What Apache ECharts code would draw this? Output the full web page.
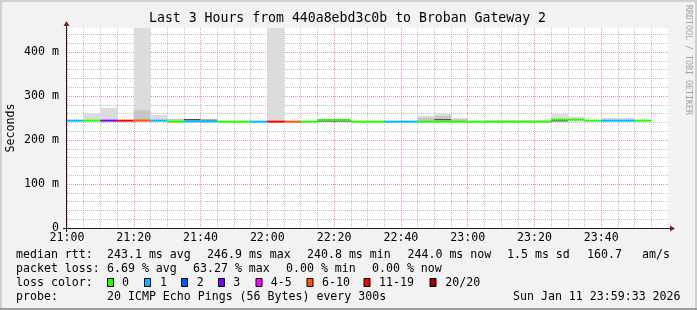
<!DOCTYPE html>
<html><head><meta charset="utf-8">
<script src="https://cdn.jsdelivr.net/npm/echarts@6/dist/echarts.min.js"></script>
<style>html,body{margin:0;padding:0;background:#f2f2f2}#c{width:697px;height:310px}</style>
</head><body><div id="c"></div>
<script>
// ---- data ----
const binTimes = ['21:00','21:05','21:10','21:15','21:20','21:25','21:30','21:35','21:40','21:45','21:50','21:55',
  '22:00','22:05','22:10','22:15','22:20','22:25','22:30','22:35','22:40','22:45','22:50','22:55',
  '23:00','23:05','23:10','23:15','23:20','23:25','23:30','23:35','23:40','23:45','23:50'];
const medianRtt = [243.9,243.9,243.9,243.9,244.2,243.9,241.6,242.4,242.4,241.7,241.7,241.7,
  241.7,241.7,241.7,245.5,245.5,241.7,241.7,241.7,241.7,241.7,241.7,241.7,
  241.7,241.6,241.6,241.7,241.7,246.2,246.4,243.9,243.9,243.9,244.0];
const lostPings = [1,0,3,12,7,1,0,1,1,0,0,1, 13,6,0,0,0,0,0,1,1,0,0,0, 0,0,0,0,0,0,0,0,1,1,0];
const smokeLow  = [null,243,243,null,243,243,241,241,241,null,null,null, 240,null,null,null,null,null,null,null,null,241,241,241, null,241,241,241,241,241,241,null,243,243,null];
const smokeHigh = [null,260,273,null,600,257,248,248,246.5,null,null,null, 600,null,null,null,null,null,null,null,null,254.5,259,248.5, null,245.8,245.8,245,245.8,259,253,null,250.5,250.5,null];
const smokeMid  = [null,null,null,null,268,null,248,null,null,null,null,null, null,null,null,null,null,null,null,null,null,250.5,255,248.5, null,null,null,null,null,null,null,null,null,null,null];
const denseLow  = [null,null,null,null,null,null,null,244.7,244.5,null,null,null, null,null,null,241.7,241.7,null,null,null,null,null,245,null, null,null,null,null,null,242.2,null,null,null,null,null];
const denseHigh = [null,null,null,null,null,null,null,247.7,246.3,null,null,null, null,null,null,245.5,245.5,null,null,null,null,null,247.5,null, null,null,null,null,null,246.2,null,null,null,null,null];
const xTickLabels = ['21:00','21:20','21:40','22:00','22:20','22:40','23:00','23:20','23:40'];
const yTickLabels = ['0','100 m','200 m','300 m','400 m'];
const lossLabels = ['0','1','2','3','4-5','6-10','11-19','20/20'];
const lossColors = ['#26ff00','#00b8ff','#0059ff','#7e00ff','#ff00ff','#ff5500','#ff0000','#a00000'];
const rttStats = ['243.1 ms avg','246.9 ms max','240.8 ms min','244.0 ms now','1.5 ms sd','160.7','am/s'];
const lossStats = ['6.69 % avg','63.27 % max','0.00 % min','0.00 % now'];
const probeText = '20 ICMP Echo Pings (56 Bytes) every 300s';
const stampText = 'Sun Jan 11 23:59:33 2026';
const titleText = 'Last 3 Hours from 440a8ebd3c0b to Broban Gateway 2';
const stepMinutes = 5;

// ---- helpers ----
const MONO = 'DejaVu Sans Mono';
const Y_MAX = 454.5;
const MAJOR = 'rgba(222,79,79,0.6)';
const MINOR = 'rgba(143,143,143,0.55)';
function toMin(t){ const p = t.split(':'); return (+p[0]*60 + +p[1]) - 21*60; }
function lossIndex(n){ if(n<=3) return n; if(n<=5) return 4; if(n<=10) return 5; if(n<=19) return 6; return 7; }

const smokeData = binTimes.map((t,i)=>[toMin(t), toMin(t)+stepMinutes, smokeLow[i], smokeHigh[i], smokeMid[i], denseLow[i], denseHigh[i]]);
const medianData = binTimes.map((t,i)=>[toMin(t), toMin(t)+stepMinutes, medianRtt[i], lostPings[i]]);

const xGridColors = []; for(let v=0; v<=180; v+=5) xGridColors.push(v%20===0?MAJOR:MINOR);
const yGridColors = []; for(let v=0; v<=440; v+=20) yGridColors.push(v%100===0?MAJOR:MINOR); yGridColors.push('rgba(0,0,0,0)');

function smokeItem(params, api){
  const s = api.value(0), e = api.value(1), cs = params.coordSys;
  const children = [];
  function band(lo, hi, color){
    if (isNaN(lo) || isNaN(hi)) return;
    const p1 = api.coord([s, lo]), p2 = api.coord([e, hi]);
    const top = Math.max(p2[1], cs.y);
    children.push({type:'rect', shape:{x:p1[0], y:top, width:p2[0]-p1[0], height:p1[1]-top}, style:{fill:color}});
  }
  band(api.value(2), api.value(3), '#dcdcdc');
  band(api.value(2), api.value(4), '#c6c6c6');
  band(api.value(5), api.value(6), '#4a4a4a');
  return {type:'group', children};
}
function medianItem(params, api){
  const s = api.value(0), e = api.value(1);
  const p1 = api.coord([s, api.value(2)]), p2 = api.coord([e, api.value(2)]);
  return {type:'rect', shape:{x:p1[0], y:p1[1]-1, width:p2[0]-p1[0], height:2},
    style:{fill: lossColors[lossIndex(api.value(3))]}};
}

const chart = echarts.init(document.getElementById('c'), null, {renderer:'canvas'});
chart.setOption({
  backgroundColor:'#f2f2f2',
  animation:false,
  grid:{left:67, right:29, top:28, bottom:82, show:true, backgroundColor:'#ffffff', borderWidth:0},
  xAxis:{type:'value', min:0, max:180, interval:5,
    axisLine:{show:false}, axisTick:{show:false},
    axisLabel:{margin:4, fontFamily:MONO, fontSize:11.6, color:'#000', showMaxLabel:false,
      formatter:v=> (v%20===0 && v<180) ? xTickLabels[v/20] : ''},
    splitLine:{show:true, showMaxLine:false, lineStyle:{color:xGridColors, type:[1,1], width:1}}},
  yAxis:{type:'value', min:0, max:Y_MAX, interval:20,
    axisLine:{show:false}, axisTick:{show:false},
    axisLabel:{margin:8, fontFamily:MONO, fontSize:11.6, color:'#000', showMaxLabel:false,
      formatter:v=> (v%100===0) ? yTickLabels[v/100] : ''},
    splitLine:{show:true, showMaxLine:false, lineStyle:{color:yGridColors, type:[1,1], width:1}}},
  series:[
    {type:'custom', name:'smoke', renderItem:smokeItem, data:smokeData, encode:{x:[0,1], y:[2,3]}, silent:true, z:2},
    {type:'custom', name:'median', renderItem:medianItem, data:medianData, encode:{x:[0,1], y:2}, silent:true, z:3}
  ]
});

// ---- chrome and legend (placed from the library's own pixel mapping) ----
const o = chart.convertToPixel({gridIndex:0}, [0,0]);
const e = chart.convertToPixel({gridIndex:0}, [180, Y_MAX]);
const AXIS = '#1f1f1f', ARROW = '#801f1f';
const g = [];
g.push({type:'rect', shape:{x:0,y:0,width:697,height:2}, style:{fill:'#cfcfcf'}, silent:true});
g.push({type:'rect', shape:{x:0,y:0,width:2,height:310}, style:{fill:'#cfcfcf'}, silent:true});
g.push({type:'rect', shape:{x:695,y:0,width:2,height:310}, style:{fill:'#cfcfcf'}, silent:true});
g.push({type:'rect', shape:{x:0,y:308,width:697,height:2}, style:{fill:'#9e9e9e'}, silent:true});
g.push({type:'line', shape:{x1:o[0]-4, y1:o[1]+0.5, x2:e[0]+4, y2:o[1]+0.5}, style:{stroke:AXIS, lineWidth:1}, z:10});
g.push({type:'line', shape:{x1:o[0]-0.5, y1:o[1]+4, x2:o[0]-0.5, y2:e[1]-4}, style:{stroke:AXIS, lineWidth:1}, z:10});
g.push({type:'polygon', shape:{points:[[e[0]+2,o[1]-2.5],[e[0]+2,o[1]+3.5],[e[0]+7,o[1]+0.5]]}, style:{fill:ARROW}, z:10});
g.push({type:'polygon', shape:{points:[[o[0]-3.5,e[1]-2],[o[0]+2.5,e[1]-2],[o[0]-0.5,e[1]-7]]}, style:{fill:ARROW}, z:10});
function txt(s, x, y, extra){ return Object.assign({type:'text', x, y, style:{text:s, fontFamily:MONO, fontSize:11.6, fill:'#000', align:'left', verticalAlign:'middle'}, z:10}, extra||{}); }
g.push(txt(titleText, 347.5, 19, {style:{text:titleText, fontFamily:MONO, fontSize:13.2, fill:'#000', align:'center', verticalAlign:'middle'}}));
g.push(txt('Seconds', 11, 128, {rotation:Math.PI/2, style:{text:'Seconds', fontFamily:MONO, fontSize:11.6, fill:'#000', align:'center', verticalAlign:'middle'}}));
g.push(txt('RRDTOOL / TOBI OETIKER', 688, 60, {rotation:-Math.PI/2, style:{text:'RRDTOOL / TOBI OETIKER', fontFamily:MONO, fontSize:8.3, fill:'#a0a0a0', align:'center', verticalAlign:'middle'}}));
const L1 = 254.5, L2 = 268.5, L3 = 282.5, L4 = 296.5;
g.push(txt('median rtt:', 16, L1));
[107,207,307,407.5,507,587,642].forEach((x,i)=>g.push(txt(rttStats[i], x, L1)));
g.push(txt('packet loss:', 16, L2));
[107,193,286,372].forEach((x,i)=>g.push(txt(lossStats[i], x, L2)));
g.push(txt('loss color:', 16, L3));
const boxX = [107.5,144.5,181.5,218.5,256,307,364,430];
const labX = [122,160,196.7,233.3,270.7,322,379,445.3];
lossLabels.forEach((lab,i)=>{
  g.push({type:'rect', shape:{x:boxX[i], y:278.5, width:6, height:8}, style:{fill:lossColors[i], stroke:'#000', lineWidth:1}, z:10});
  g.push(txt(lab, labX[i], L3));
});
g.push(txt('probe:', 16, L4));
g.push(txt(probeText, 107, L4));
g.push(txt(stampText, 513, L4));
chart.setOption({graphic:{elements:g}});
</script>
</body></html>
